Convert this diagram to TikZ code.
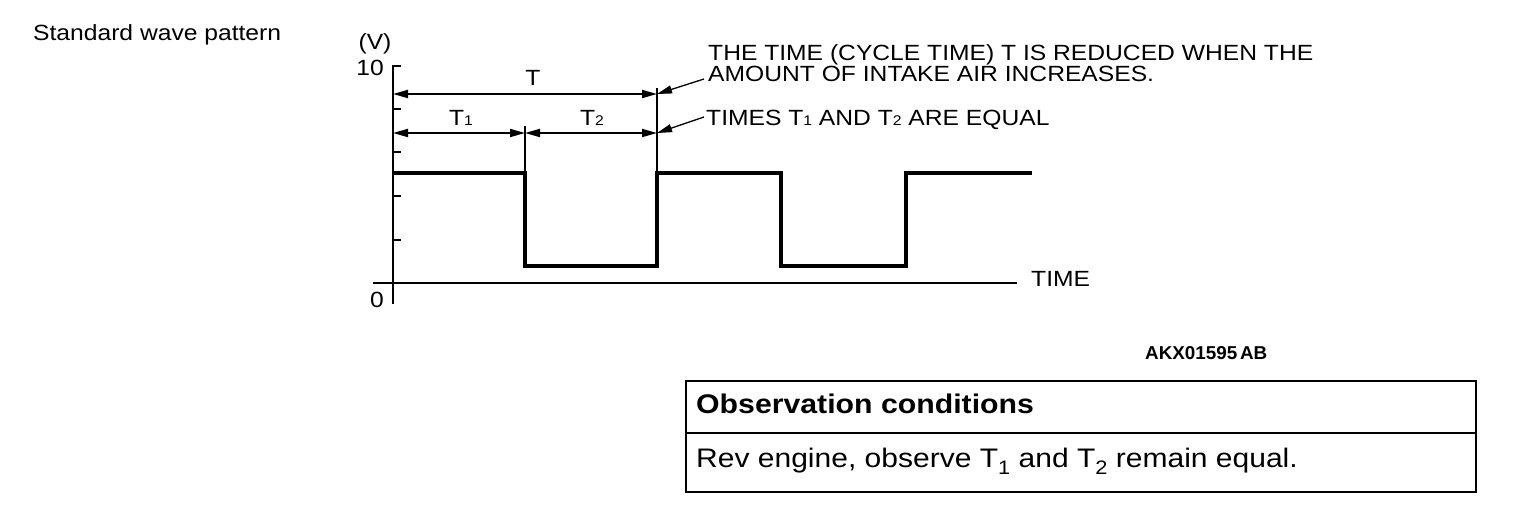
\documentclass[tikz,border=0pt]{standalone}
\usepackage{fontspec}
\setmainfont{Liberation Sans}[FakeStretch=1.12]
\newfontfamily\akxfont{Liberation Sans}
\usetikzlibrary{arrows.meta}
\newcommand\smallsub[1]{{\fontsize{14}{14}\selectfont #1}}
\newcommand\boxsub[1]{\raisebox{-0.28em}{\fontsize{19.5}{19.5}\selectfont #1}}
\begin{document}
\begin{tikzpicture}[x=1pt,y=-1pt,
  axis/.style={line width=2pt},
  tick/.style={line width=1.6pt},
  wave/.style={line width=3.2pt, line join=miter},
  ext/.style={line width=1.8pt},
  dim/.style={line width=1.8pt, {Triangle[length=15pt,width=8pt]}-{Triangle[length=15pt,width=8pt]}},
  leader/.style={line width=1.3pt, -{Triangle[length=15pt,width=8pt]}},
  lbl/.style={inner sep=0pt, anchor=base west, font=\fontsize{22}{24}\selectfont},
  clbl/.style={inner sep=0pt, anchor=base, font=\fontsize{22}{24}\selectfont},
  boxhead/.style={inner sep=0pt, anchor=base west, font=\fontsize{27}{28}\selectfont\bfseries},
  boxtext/.style={inner sep=0pt, anchor=base west, font=\fontsize{26.8}{28}\selectfont},
  frame/.style={line width=2pt}
]
\useasboundingbox (0,0) rectangle (1520,512);

% title
\node[lbl] (title) at (33,40) {Standard wave pattern};

% axes
\coordinate (ytop) at (393,66);
\coordinate (ytopT) at (401,66);
\coordinate (ybot) at (393,304);
\coordinate (xl) at (373,283);
\coordinate (xr) at (1017,283);
\draw[axis] (ytopT) -- (ytop) -- (ybot);
\draw[axis] (xl) -- (xr);
\foreach \yy in {109,152,196,240} \draw[tick] (393,\yy) -- (401,\yy);

\node[clbl] (vlab) at (375,49) {(V)};
\node[clbl] (ten) at (370,75) {10};
\node[clbl] (zero) at (377,307) {0};
\node[lbl] (time) at (1031,286) {TIME};

% waveform
\coordinate (w0) at (393,173);
\coordinate (w1) at (525,173);
\coordinate (w2) at (525,266);
\coordinate (w3) at (657,266);
\coordinate (w4) at (657,173);
\coordinate (w5) at (781,173);
\coordinate (w6) at (781,266);
\coordinate (w7) at (906,266);
\coordinate (w8) at (906,173);
\coordinate (w9) at (1032,173);
\draw[wave] (w0) -- (w1) -- (w2) -- (w3) -- (w4) -- (w5) -- (w6) -- (w7) -- (w8) -- (w9);

% extension lines
\coordinate (e1) at (525,126);
\coordinate (e2) at (657,88);
\draw[ext] (e1) -- (w1);
\draw[ext] (e2) -- (w4);

% dimensions
\coordinate (dTa) at (393,94);
\coordinate (dTb) at (657,94);
\coordinate (d1a) at (393,133);
\coordinate (d1b) at (525,133);
\coordinate (d2b) at (657,133);
\draw[dim] (dTa) -- (dTb);
\draw[dim] (d1a) -- (d1b);
\draw[dim] (d1b) -- (d2b);
\node[clbl] (tT) at (533,85) {T};
\node[clbl] (tT1) at (461,125) {T\smallsub{1}};
\node[clbl] (tT2) at (592,125) {T\smallsub{2}};

% notes
\node[lbl] (n1) at (708,60) {THE TIME (CYCLE TIME) T IS REDUCED WHEN THE};
\node[lbl] (n2) at (708,81) {AMOUNT OF INTAKE AIR INCREASES.};
\node[lbl] (n3) at (706,125) {TIMES T\smallsub{1} AND T\smallsub{2} ARE EQUAL};
\coordinate (l1) at (704,79);
\coordinate (l2) at (704,117);
\draw[leader] (l1) -- (dTb);
\draw[leader] (l2) -- (d2b);

% code
\node[inner sep=0pt, anchor=base west] (akx) at (1145,359)
  {\resizebox{122pt}{13pt}{\akxfont\bfseries AKX01595\kern0.15em AB}};

% table
\coordinate (b1) at (686,381);
\coordinate (b2) at (1476,492);
\coordinate (m1) at (686,433);
\coordinate (m2) at (1476,433);
\draw[frame] (b1) rectangle (b2);
\draw[frame] (m1) -- (m2);
\node[boxhead] (oc) at (696,413) {Observation conditions};
\node[boxtext] (rev) at (696,467) {Rev engine, observe T\boxsub{1} and T\boxsub{2} remain equal.};
\end{tikzpicture}
\end{document}
